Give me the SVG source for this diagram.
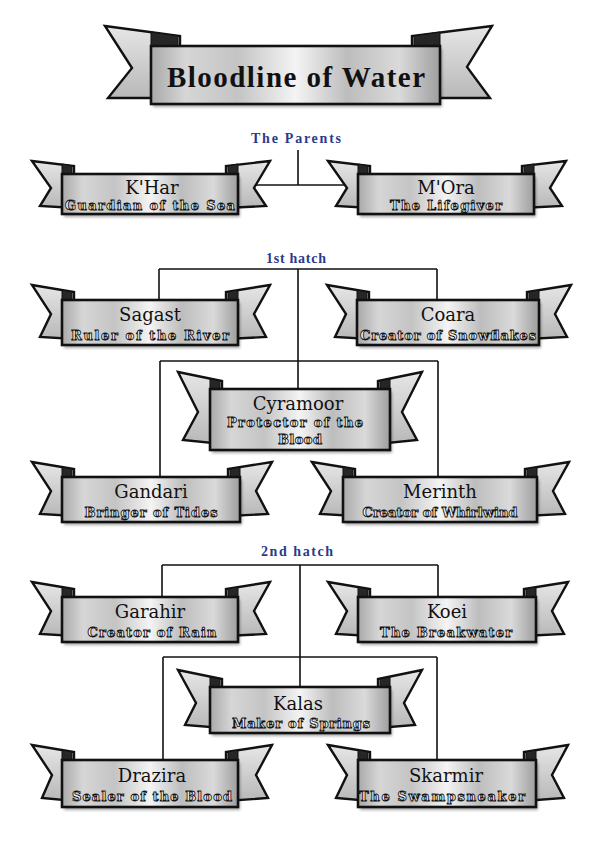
<svg xmlns="http://www.w3.org/2000/svg" width="596" height="865" viewBox="0 0 596 865">
<defs>
<linearGradient id="metal" x1="0" y1="0" x2="1" y2="0">
<stop offset="0" stop-color="#a9a9a9"/>
<stop offset="0.12" stop-color="#d6d6d6"/>
<stop offset="0.3" stop-color="#c4c4c4"/>
<stop offset="0.5" stop-color="#f4f4f4"/>
<stop offset="0.68" stop-color="#bdbdbd"/>
<stop offset="0.86" stop-color="#dadada"/>
<stop offset="1" stop-color="#9e9e9e"/>
</linearGradient>
<linearGradient id="wingg" x1="0" y1="0" x2="0" y2="1">
<stop offset="0" stop-color="#e6e6e6"/>
<stop offset="1" stop-color="#b8b8b8"/>
</linearGradient>
<filter id="blur" x="-10%" y="-20%" width="120%" height="140%"><feGaussianBlur stdDeviation="1.5"/></filter>
<style>
.rect{fill:url(#metal);stroke:#111;stroke-width:2.6}
.wing{fill:url(#wingg);stroke:#111;stroke-width:2.4;stroke-linejoin:miter}
.fold{fill:#262626;stroke:#111;stroke-width:1}
.shadow{fill:#000;opacity:0.35;filter:url(#blur)}
.name{font-family:"DejaVu Serif",serif;font-size:18px;fill:#111;text-anchor:middle}
.sub{font-family:"DejaVu Serif",serif;font-weight:bold;font-size:13px;fill:#f4f4f4;stroke:#111;stroke-width:0.85;text-anchor:middle}
.title{font-family:"Liberation Serif",serif;font-weight:bold;font-size:29px;fill:#111;text-anchor:middle}
.lbl{font-family:"Liberation Serif",serif;font-weight:bold;font-size:14px;fill:#2b3a8c;text-anchor:middle}
.conn line{stroke:#111;stroke-width:1.6}
</style>
</defs>
<rect width="596" height="865" fill="#fff"/>

<g id="connectors" class="conn">
<line x1="298" y1="150" x2="298" y2="185"/>
<line x1="238" y1="185" x2="358" y2="185"/>
<line x1="159" y1="269" x2="437" y2="269"/>
<line x1="159" y1="269" x2="159" y2="300"/>
<line x1="437" y1="269" x2="437" y2="300"/>
<line x1="298" y1="269" x2="298" y2="389"/>
<line x1="160" y1="361" x2="438" y2="361"/>
<line x1="160" y1="361" x2="160" y2="477"/>
<line x1="438" y1="361" x2="438" y2="477"/>
<line x1="162" y1="565" x2="438" y2="565"/>
<line x1="162" y1="565" x2="162" y2="597"/>
<line x1="438" y1="565" x2="438" y2="597"/>
<line x1="300" y1="565" x2="300" y2="687"/>
<line x1="163" y1="657" x2="437" y2="657"/>
<line x1="163" y1="657" x2="163" y2="760"/>
<line x1="437" y1="657" x2="437" y2="760"/>
</g>

<g id="labels">
<text class="lbl" x="296" y="143" textLength="90" lengthAdjust="spacing">The Parents</text>
<text class="lbl" x="296" y="263" textLength="60" lengthAdjust="spacing">1st hatch</text>
<text class="lbl" x="297" y="556" textLength="72" lengthAdjust="spacing">2nd hatch</text>
</g>

<g id="title">
<polygon class="wing" points="105,26 180,36 180,98 108,98 132,68"/>
<polygon class="fold" points="151,32 178,36 178,46 151,46"/>
<polygon class="wing" points="492,26 412,36 412,98 490,98 467,67"/>
<polygon class="fold" points="440,32 414,36 414,46 440,46"/>
<rect class="shadow" x="153" y="49" width="289" height="58"/>
<rect class="rect" x="151" y="46" width="289" height="58"/>
<text class="title" x="296" y="87" textLength="258" lengthAdjust="spacing">Bloodline of Water</text>
</g>

<g id="khar">
<polygon class="wing" points="32,161 74,166 74,208 40,206 51,188"/>
<polygon class="fold" points="62,164 72,166 72,174 62,174"/>
<polygon class="wing" points="270,161 226,166 226,208 266,206 254,188"/>
<polygon class="fold" points="238,164 228,166 228,174 238,174"/>
<rect class="shadow" x="64" y="177" width="176" height="40"/>
<rect class="rect" x="62" y="174" width="176" height="40"/>
<text class="name" x="152" y="194">K'Har</text>
<text class="sub" x="150" y="210" textLength="170" lengthAdjust="spacing">Guardian of the Sea</text>
</g>

<g id="mora">
<polygon class="wing" points="328,161 370,166 370,208 336,206 347,188"/>
<polygon class="fold" points="358,164 368,166 368,174 358,174"/>
<polygon class="wing" points="566,161 522,166 522,208 562,206 550,188"/>
<polygon class="fold" points="534,164 524,166 524,174 534,174"/>
<rect class="shadow" x="360" y="177" width="176" height="40"/>
<rect class="rect" x="358" y="174" width="176" height="40"/>
<text class="name" x="446" y="194">M'Ora</text>
<text class="sub" x="446" y="210" textLength="112" lengthAdjust="spacing">The Lifegiver</text>
</g>

<g id="sagast">
<polygon class="wing" points="32,285 74,292 74,339 40,337 51,314"/>
<polygon class="fold" points="62,290 72,292 72,300 62,300"/>
<polygon class="wing" points="270,285 226,292 226,339 266,337 254,314"/>
<polygon class="fold" points="238,290 228,292 228,300 238,300"/>
<rect class="shadow" x="64" y="303" width="176" height="45"/>
<rect class="rect" x="62" y="300" width="176" height="45"/>
<text class="name" x="150" y="321">Sagast</text>
<text class="sub" x="150" y="340" textLength="158" lengthAdjust="spacing">Ruler of the River</text>
</g>

<g id="coara">
<polygon class="wing" points="327,285 369,292 369,339 335,337 346,314"/>
<polygon class="fold" points="357,290 367,292 367,300 357,300"/>
<polygon class="wing" points="571,285 527,292 527,339 567,337 555,314"/>
<polygon class="fold" points="539,290 529,292 529,300 539,300"/>
<rect class="shadow" x="359" y="303" width="182" height="45"/>
<rect class="rect" x="357" y="300" width="182" height="45"/>
<text class="name" x="448" y="321">Coara</text>
<text class="sub" x="448" y="340" textLength="176" lengthAdjust="spacing">Creator of Snowflakes</text>
</g>

<g id="cyramoor">
<polygon class="wing" points="178,372 222,381 222,444 183,440 198,412"/>
<polygon class="fold" points="210,379 220,381 220,389 210,389"/>
<polygon class="wing" points="422,372 378,381 378,444 417,440 402,412"/>
<polygon class="fold" points="390,379 380,381 380,389 390,389"/>
<rect class="shadow" x="212" y="392" width="180" height="61"/>
<rect class="rect" x="210" y="389" width="180" height="61"/>
<text class="name" x="298" y="410">Cyramoor</text>
<text class="sub" x="295" y="427" textLength="136" lengthAdjust="spacing">Protector of the</text>
<text class="sub" x="300" y="444" textLength="44" lengthAdjust="spacing">Blood</text>
</g>

<g id="gandari">
<polygon class="wing" points="32,462 74,469 74,516 40,514 51,491"/>
<polygon class="fold" points="62,467 72,469 72,477 62,477"/>
<polygon class="wing" points="272,462 228,469 228,516 268,514 256,491"/>
<polygon class="fold" points="240,467 230,469 230,477 240,477"/>
<rect class="shadow" x="64" y="480" width="178" height="45"/>
<rect class="rect" x="62" y="477" width="178" height="45"/>
<text class="name" x="151" y="498">Gandari</text>
<text class="sub" x="151" y="517" textLength="133" lengthAdjust="spacing">Bringer of Tides</text>
</g>

<g id="merinth">
<polygon class="wing" points="312,462 355,469 355,516 320,514 331,491"/>
<polygon class="fold" points="343,467 353,469 353,477 343,477"/>
<polygon class="wing" points="569,462 525,469 525,516 565,514 553,491"/>
<polygon class="fold" points="537,467 527,469 527,477 537,477"/>
<rect class="shadow" x="345" y="480" width="194" height="45"/>
<rect class="rect" x="343" y="477" width="194" height="45"/>
<text class="name" x="440" y="498">Merinth</text>
<text class="sub" x="440" y="517" textLength="155" lengthAdjust="spacing">Creator of Whirlwind</text>
</g>

<g id="garahir">
<polygon class="wing" points="32,582 74,589 74,636 40,634 51,611"/>
<polygon class="fold" points="62,587 72,589 72,597 62,597"/>
<polygon class="wing" points="270,582 226,589 226,636 266,634 254,611"/>
<polygon class="fold" points="238,587 228,589 228,597 238,597"/>
<rect class="shadow" x="64" y="600" width="176" height="45"/>
<rect class="rect" x="62" y="597" width="176" height="45"/>
<text class="name" x="150" y="618">Garahir</text>
<text class="sub" x="152" y="637" textLength="129" lengthAdjust="spacing">Creator of Rain</text>
</g>

<g id="koei">
<polygon class="wing" points="328,582 370,589 370,636 336,634 347,611"/>
<polygon class="fold" points="358,587 368,589 368,597 358,597"/>
<polygon class="wing" points="568,582 524,589 524,636 564,634 552,611"/>
<polygon class="fold" points="536,587 526,589 526,597 536,597"/>
<rect class="shadow" x="360" y="600" width="178" height="45"/>
<rect class="rect" x="358" y="597" width="178" height="45"/>
<text class="name" x="447" y="618">Koei</text>
<text class="sub" x="446" y="637" textLength="132" lengthAdjust="spacing">The Breakwater</text>
</g>

<g id="kalas">
<polygon class="wing" points="178,670 222,679 222,728 185,725 196,703"/>
<polygon class="fold" points="210,677 220,679 220,687 210,687"/>
<polygon class="wing" points="422,670 378,679 378,728 415,725 404,703"/>
<polygon class="fold" points="390,677 380,679 380,687 390,687"/>
<rect class="shadow" x="212" y="690" width="180" height="46"/>
<rect class="rect" x="210" y="687" width="180" height="46"/>
<text class="name" x="298" y="710">Kalas</text>
<text class="sub" x="301" y="728" textLength="138" lengthAdjust="spacing">Maker of Springs</text>
</g>

<g id="drazira">
<polygon class="wing" points="32,745 74,752 74,801 42,798 52,775"/>
<polygon class="fold" points="62,750 72,752 72,760 62,760"/>
<polygon class="wing" points="272,745 226,752 226,801 268,798 256,775"/>
<polygon class="fold" points="238,750 228,752 228,760 238,760"/>
<rect class="shadow" x="64" y="763" width="176" height="47"/>
<rect class="rect" x="62" y="760" width="176" height="47"/>
<text class="name" x="152" y="782">Drazira</text>
<text class="sub" x="152" y="801" textLength="160" lengthAdjust="spacing">Sealer of the Blood</text>
</g>

<g id="skarmir">
<polygon class="wing" points="328,745 370,752 370,801 336,798 347,775"/>
<polygon class="fold" points="358,750 368,752 368,760 358,760"/>
<polygon class="wing" points="568,745 524,752 524,801 564,798 552,775"/>
<polygon class="fold" points="536,750 526,752 526,760 536,760"/>
<rect class="shadow" x="360" y="763" width="178" height="47"/>
<rect class="rect" x="358" y="760" width="178" height="47"/>
<text class="name" x="446" y="782">Skarmir</text>
<text class="sub" x="442" y="801" textLength="166" lengthAdjust="spacing">The Swampsneaker</text>
</g>
</svg>
